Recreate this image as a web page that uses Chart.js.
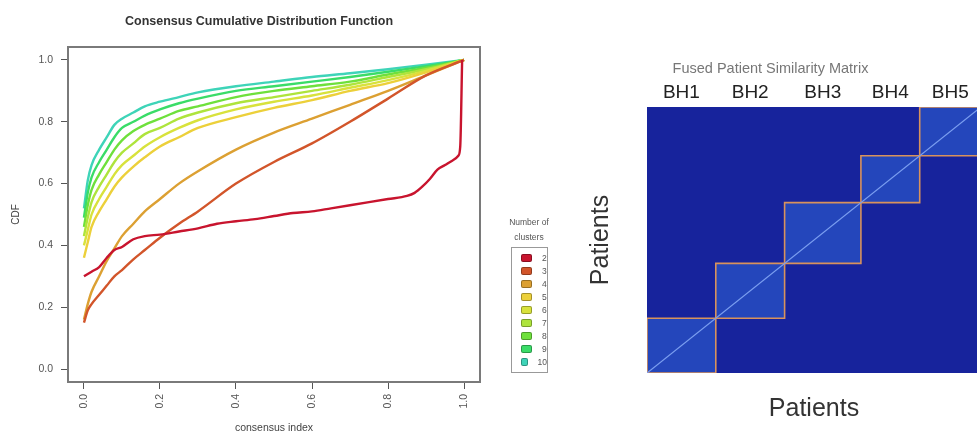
<!DOCTYPE html>
<html>
<head>
<meta charset="utf-8">
<script src="https://cdn.jsdelivr.net/npm/chart.js@4.4.1/dist/chart.umd.min.js"></script>
<style>
  body { margin: 0; width: 977px; height: 435px; overflow: hidden; background: #fff; position: relative;
         font-family: "Liberation Sans", Arial, sans-serif; }
  #cdf { position: absolute; left: 0; top: 0; }
  #sim { position: absolute; left: 560px; top: 0; }
  #legend { position: absolute; left: 503px; top: 215px; width: 52px; color: #555; font-size: 8.5px; }
  #legend .ttl { text-align: center; line-height: 15px; }
  #legend .box { margin: 2px 0 0 8px; width: 35px; border: 1px solid #999; padding: 3px 0 4px 0; }
  #legend .row { height: 13px; display: flex; align-items: center; }
  #legend .sw { width: 9px; height: 6px; border-radius: 2px; margin: 0 10px 0 9px; }
</style>
</head>
<body>
<canvas id="cdf" width="518" height="435"></canvas>
<div id="legend"></div>
<canvas id="sim" width="430" height="435"></canvas>
<script>
// consensus CDF values
const cdfX = [0, 0.01, 0.02, 0.04, 0.06, 0.08, 0.1, 0.13, 0.16, 0.2, 0.25, 0.3, 0.4, 0.5, 0.6, 0.7, 0.8, 0.9, 1.0];
const k3 = [0.15, 0.19, 0.21, 0.24, 0.27, 0.30, 0.32, 0.355, 0.385, 0.425, 0.47, 0.51, 0.60, 0.67, 0.73, 0.80, 0.875, 0.95, 1.0];
const k4 = [0.16, 0.21, 0.25, 0.30, 0.35, 0.39, 0.43, 0.47, 0.51, 0.55, 0.60, 0.64, 0.71, 0.765, 0.81, 0.855, 0.90, 0.95, 1.0];
const k5 = [0.36, 0.41, 0.46, 0.51, 0.55, 0.59, 0.62, 0.655, 0.685, 0.72, 0.75, 0.78, 0.815, 0.845, 0.87, 0.90, 0.925, 0.96, 1.0];
const k6 = [0.40, 0.45, 0.50, 0.55, 0.59, 0.63, 0.66, 0.69, 0.72, 0.75, 0.78, 0.805, 0.84, 0.865, 0.885, 0.91, 0.935, 0.965, 1.0];
const k7 = [0.43, 0.49, 0.54, 0.59, 0.63, 0.67, 0.70, 0.73, 0.76, 0.78, 0.81, 0.83, 0.86, 0.88, 0.90, 0.92, 0.945, 0.97, 1.0];
const k8 = [0.46, 0.53, 0.58, 0.63, 0.67, 0.71, 0.74, 0.77, 0.79, 0.81, 0.835, 0.85, 0.88, 0.90, 0.915, 0.93, 0.953, 0.975, 1.0];
const k9 = [0.49, 0.57, 0.62, 0.67, 0.71, 0.75, 0.78, 0.80, 0.82, 0.84, 0.86, 0.875, 0.90, 0.915, 0.93, 0.945, 0.962, 0.98, 1.0];
const k10 = [0.52, 0.61, 0.66, 0.71, 0.75, 0.79, 0.81, 0.83, 0.85, 0.865, 0.88, 0.895, 0.915, 0.93, 0.945, 0.957, 0.97, 0.985, 1.0];
// k = 2 has its own sampling (sharp jump near 1)
const k2X = [0, 0.02, 0.04, 0.06, 0.08, 0.1, 0.13, 0.16, 0.2, 0.25, 0.3, 0.35, 0.4, 0.45, 0.5, 0.55, 0.6, 0.65, 0.7, 0.75, 0.8, 0.85, 0.87, 0.89, 0.91, 0.93, 0.95, 0.97, 0.985, 0.99, 0.995];
const k2 = [0.30, 0.315, 0.33, 0.36, 0.385, 0.395, 0.42, 0.43, 0.435, 0.445, 0.455, 0.47, 0.478, 0.485, 0.495, 0.505, 0.51, 0.52, 0.53, 0.54, 0.55, 0.56, 0.57, 0.59, 0.615, 0.645, 0.66, 0.675, 0.69, 0.72, 1.0];

const clusterK = ['2', '3', '4', '5', '6', '7', '8', '9', '10'];
const clusterColors = ['#c8142e', '#d2552a', '#dca032', '#ecd03a', '#d8e23c', '#aee43c', '#6ee03c', '#3adc68', '#3ed4b8'];
const axisTicks = [0, 0.2, 0.4, 0.6, 0.8, 1.0];

// similarity matrix blocks
const blockNames = ['BH1', 'BH2', 'BH3', 'BH4', 'BH5'];
const patientsPerCluster = [55, 55, 61, 47, 49];

Chart.defaults.font.family = '"Liberation Sans", Arial, sans-serif';
Chart.defaults.color = '#444';

const series = [k2, k3, k4, k5, k6, k7, k8, k9, k10];
const cdfSets = series.map((ys, i) => {
  const xs = i === 0 ? k2X : cdfX;
  return {
    label: clusterK[i],
    data: ys.map((y, j) => ({ x: xs[j], y })),
    borderColor: clusterColors[i],
    backgroundColor: clusterColors[i],
    borderWidth: 2.4,
    pointRadius: 0,
    cubicInterpolationMode: 'monotone'
  };
});

const plotBox = {
  id: 'plotBox',
  afterDraw(chart) {
    const { ctx, chartArea: a } = chart;
    ctx.save();
    ctx.strokeStyle = '#7a7a7a';
    ctx.lineWidth = 2;
    ctx.strokeRect(a.left, a.top, a.right - a.left, a.bottom - a.top);
    ctx.restore();
  }
};

const cdfChart = new Chart(document.getElementById('cdf'), {
  type: 'line',
  data: { datasets: cdfSets },
  options: {
    responsive: false,
    animation: false,
    layout: { padding: 0 },
    plugins: {
      legend: { display: false },
      tooltip: { enabled: false },
      title: {
        display: true,
        text: 'Consensus Cumulative Distribution Function',
        color: '#333',
        font: { size: 12.5, weight: 'bold' },
        padding: { top: 14.5, bottom: 17.5 }
      }
    },
    scales: {
      x: {
        type: 'linear', min: -0.042, max: 1.042,
        afterFit: s => { s.height = 53; },
        afterBuildTicks: s => { s.ticks = axisTicks.map(v => ({ value: v })); },
        ticks: { minRotation: 90, maxRotation: 90, padding: 5, font: { size: 10.5 }, color: '#555',
                 callback: v => v.toFixed(1) },
        grid: { drawOnChartArea: false, tickLength: 7, tickColor: '#555' },
        border: { display: false },
        title: { display: true, text: 'consensus index', font: { size: 10.5 }, color: '#444',
                 padding: { top: 0, bottom: 1 } }
      },
      y: {
        min: -0.042, max: 1.042,
        afterFit: s => { s.width = 68; },
        afterBuildTicks: s => { s.ticks = axisTicks.map(v => ({ value: v })); },
        ticks: { padding: 8, font: { size: 10.5 }, color: '#555', callback: v => v.toFixed(1) },
        grid: { drawOnChartArea: false, tickLength: 7, tickColor: '#555' },
        border: { display: false },
        title: { display: true, text: 'CDF', font: { size: 10 }, color: '#444',
                 padding: { top: 10, bottom: 0 } }
      },
      // empty right strip so the title centres over the whole R panel
      yPad: {
        position: 'right', min: 0, max: 1,
        afterFit: s => { s.width = 38; },
        ticks: { display: false }, grid: { display: false }, border: { display: false }
      }
    }
  },
  plugins: [plotBox]
});

// html legend from the chart's datasets
const legendEl = document.getElementById('legend');
let rows = '';
cdfChart.data.datasets.forEach(d => {
  rows += '<div class="row"><span class="sw" style="background:' + d.borderColor +
          ';border:1px solid rgba(0,0,0,0.3)"></span>' + d.label + '</div>';
});
legendEl.innerHTML = '<div class="ttl">Number of<br>clusters</div><div class="box">' + rows + '</div>';

// similarity matrix (first dataset is drawn on top)
const N = patientsPerCluster.reduce((a, b) => a + b, 0);
const edges = [0];
patientsPerCluster.forEach(n => edges.push(edges[edges.length - 1] + n));
const centers = patientsPerCluster.map((n, i) => edges[i] + n / 2);

const simSets = [{
  data: [{ x: 0, y: 0 }, { x: N, y: N }],
  borderColor: '#7b9ef0', borderWidth: 1.2, pointRadius: 0, fill: false
}];
patientsPerCluster.forEach((n, i) => {
  const a = edges[i], b = edges[i + 1];
  simSets.push({
    data: [{ x: a, y: a }, { x: b, y: a }, { x: b, y: b }, { x: a, y: b }, { x: a, y: a }],
    borderColor: '#d8925c', borderWidth: 1.6, pointRadius: 0, fill: false
  });
});
patientsPerCluster.forEach((n, i) => {
  const a = edges[i], b = edges[i + 1];
  simSets.push({
    data: [{ x: a, y: b }, { x: b, y: b }],
    borderWidth: 0, pointRadius: 0, fill: { value: a }, backgroundColor: '#2446bb'
  });
});
simSets.push({
  data: [{ x: 0, y: N }, { x: N, y: N }],
  borderWidth: 0, pointRadius: 0, fill: { value: 0 }, backgroundColor: '#17239c'
});

new Chart(document.getElementById('sim'), {
  type: 'line',
  data: { datasets: simSets },
  options: {
    responsive: false,
    animation: false,
    layout: { padding: { left: 0, right: 9, top: 0, bottom: 0 } },
    plugins: {
      legend: { display: false },
      tooltip: { enabled: false },
      title: {
        display: true, text: 'Fused Patient Similarity Matrix', color: '#777',
        font: { size: 14.5, weight: 'normal' }, padding: { top: 60.3, bottom: 0 }
      }
    },
    scales: {
      x: {
        type: 'linear', min: 0, max: N,
        afterFit: s => { s.height = 62; },
        ticks: { display: false }, grid: { display: false, drawTicks: false }, border: { display: false },
        title: { display: true, text: 'Patients', color: '#333', font: { size: 25 },
                 padding: { top: 0, bottom: 11 } }
      },
      x2: {
        type: 'linear', position: 'top', min: 0, max: N,
        afterFit: s => { s.height = 29.3; },
        afterBuildTicks: s => { s.ticks = centers.map(v => ({ value: v })); },
        ticks: { autoSkip: false, padding: 3, color: '#222', font: { size: 19 },
                 callback: (v, i) => blockNames[i] },
        grid: { display: false, drawTicks: false }, border: { display: false }
      },
      y: {
        min: 0, max: N,
        afterFit: s => { s.width = 87; },
        ticks: { display: false }, grid: { display: false, drawTicks: false }, border: { display: false },
        title: { display: true, text: 'Patients', color: '#333', font: { size: 25 },
                 padding: { top: 26, bottom: 0 } }
      }
    }
  }
});
</script>
</body>
</html>
